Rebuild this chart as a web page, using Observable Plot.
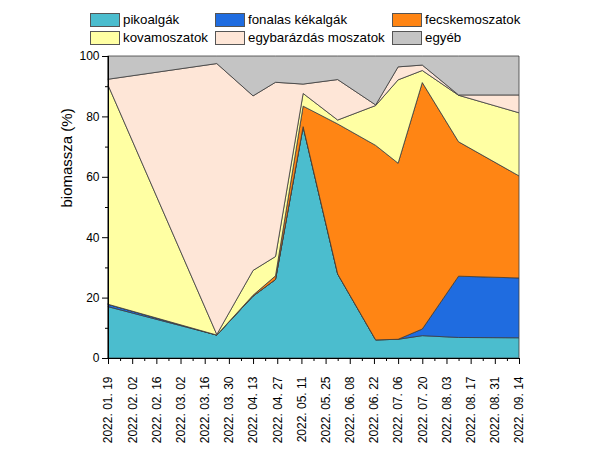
<!DOCTYPE html>
<html><head><meta charset="utf-8">
<script src="https://cdn.jsdelivr.net/npm/d3@7"></script>
<script src="https://cdn.jsdelivr.net/npm/@observablehq/plot@0.6"></script>
<style>
body{margin:0;background:#fff;font-family:"Liberation Sans",Arial,sans-serif;}
#wrap{width:605px;height:466px;position:relative;overflow:hidden}
#legend{position:relative;height:46px;width:605px}
.item{position:absolute;display:flex;align-items:center;font-size:13.3px;color:#000;height:15px;white-space:nowrap}
.sw{width:28px;height:12px;border:1px solid #555;margin-right:3px;box-sizing:content-box}
</style></head><body>
<div id="wrap"><div id="legend"></div><div id="chart"></div></div>
<script>
// sample dates
const dates = ["2022-01-19","2022-03-23","2022-04-13","2022-04-26","2022-05-12","2022-06-01","2022-06-23","2022-07-06","2022-07-20","2022-08-10","2022-09-14"];
// series values (%)
const pikoalgak   = [17.0, 7.6, 20.5, 26.0, 76.6, 27.8,  6.0,  6.2,  7.4,  6.8,  6.7];
const fonalas     = [ 0.8, 0.0,  0.0,  0.0,  0.0,  0.0,  0.0,  0.0,  2.2, 20.3, 19.8];
const fecske      = [ 0.0, 0.0,  0.3,  1.2,  6.8, 49.7, 64.4, 58.3, 81.6, 44.5, 33.8];
const kova        = [72.6, 0.2,  8.2,  6.4,  4.2,  1.3, 13.2, 27.6,  4.0, 15.4, 20.9];
const egybarazdas = [ 1.9,89.7, 57.8, 57.7,  3.1, 13.4,  0.2,  4.3,  1.8,  0.1,  5.9];
const egyeb       = [ 7.7, 2.5, 13.2,  8.7,  9.3,  7.8, 16.2,  3.6,  3.0, 12.9, 12.9];

const groups = ["pikoalgák","fonalas kékalgák","fecskemoszatok","kovamoszatok","egybarázdás moszatok","egyéb"];
const colors = ["#4bbdce","#1f6ce0","#ff8514","#ffffa3","#fee6d7","#c4c4c4"];

// x tick labels
const tickDates = ["2022-01-19","2022-02-02","2022-02-16","2022-03-02","2022-03-16","2022-03-30","2022-04-13","2022-04-27","2022-05-11","2022-05-25","2022-06-08","2022-06-22","2022-07-06","2022-07-20","2022-08-03","2022-08-17","2022-08-31","2022-09-14"];
const tickLabels = ["2022. 01. 19","2022. 02. 02","2022. 02. 16","2022. 03. 02","2022. 03. 16","2022. 03. 30","2022. 04. 13","2022. 04. 27","2022. 05. 11","2022. 05. 25","2022. 06. 08","2022. 06. 22","2022. 07. 06","2022. 07. 20","2022. 08. 03","2022. 08. 17","2022. 08. 31","2022. 09. 14"];
const yTicks = [0,20,40,60,80,100];
const yMinor = [10,30,50,70,90];

const series = [pikoalgak, fonalas, fecske, kova, egybarazdas, egyeb];
const table = [];
dates.forEach((d,i)=>series.forEach((s,j)=>table.push({date:new Date(d), group:groups[j], value:s[i]})));

const tDates = tickDates.map(d=>new Date(d));
const minor = tDates.slice(0,-1).map(d=>d3.utcDay.offset(d,7));

// legend
const lg = document.getElementById("legend");
const colX = [90,215,392], rowY = [12,30];
groups.forEach((g,k)=>{
  const el = document.createElement("div");
  el.className="item";
  el.style.left = colX[k%3]+"px"; el.style.top = rowY[Math.floor(k/3)]+"px";
  const sw = document.createElement("div"); sw.className="sw"; sw.style.background = colors[k];
  const tx = document.createElement("span"); tx.textContent = g;
  el.appendChild(sw); el.appendChild(tx); lg.appendChild(el);
});

const chart = Plot.plot({
  width:605, height:420, marginTop:10, marginBottom:108, marginLeft:108, marginRight:86,
  style:{fontFamily:'"Liberation Sans",Arial,sans-serif', fontSize:"12px", color:"#000", background:"transparent", overflow:"visible"},
  x:{type:"utc", domain:[new Date(dates[0]), new Date(dates[dates.length-1])]},
  y:{domain:[0,100]},
  color:{domain:groups, range:colors},
  marks:[
    Plot.areaY(table,{x:"date", y:"value", z:"group", fill:"group", order:groups, stroke:"#3c3c3c", strokeWidth:0.8, strokeLinejoin:"round"}),
    Plot.ruleY([0],{stroke:"#000"}),
    Plot.ruleX([new Date(dates[0])],{y1:0,y2:100,stroke:"#000"}),
    Plot.axisY({ticks:yTicks, tickSize:6, tickPadding:3, label:null, stroke:"#000"}),
    Plot.axisY({ticks:yMinor, tickSize:3, tickFormat:()=>"", label:null}),
    Plot.axisX({ticks:tDates, tickFormat:d=>tickLabels[tDates.findIndex(t=>+t===+d)], tickRotate:-90, tickSize:6, tickPadding:12, label:null}),
    Plot.axisX({ticks:minor, tickSize:3, tickFormat:()=>"", label:null}),
    Plot.text(["biomassza (%)"],{frameAnchor:"left", rotate:-90, dx:-41, fontSize:15, fill:"#000"})
  ]
});
document.getElementById("chart").appendChild(chart);
</script>
</body></html>
